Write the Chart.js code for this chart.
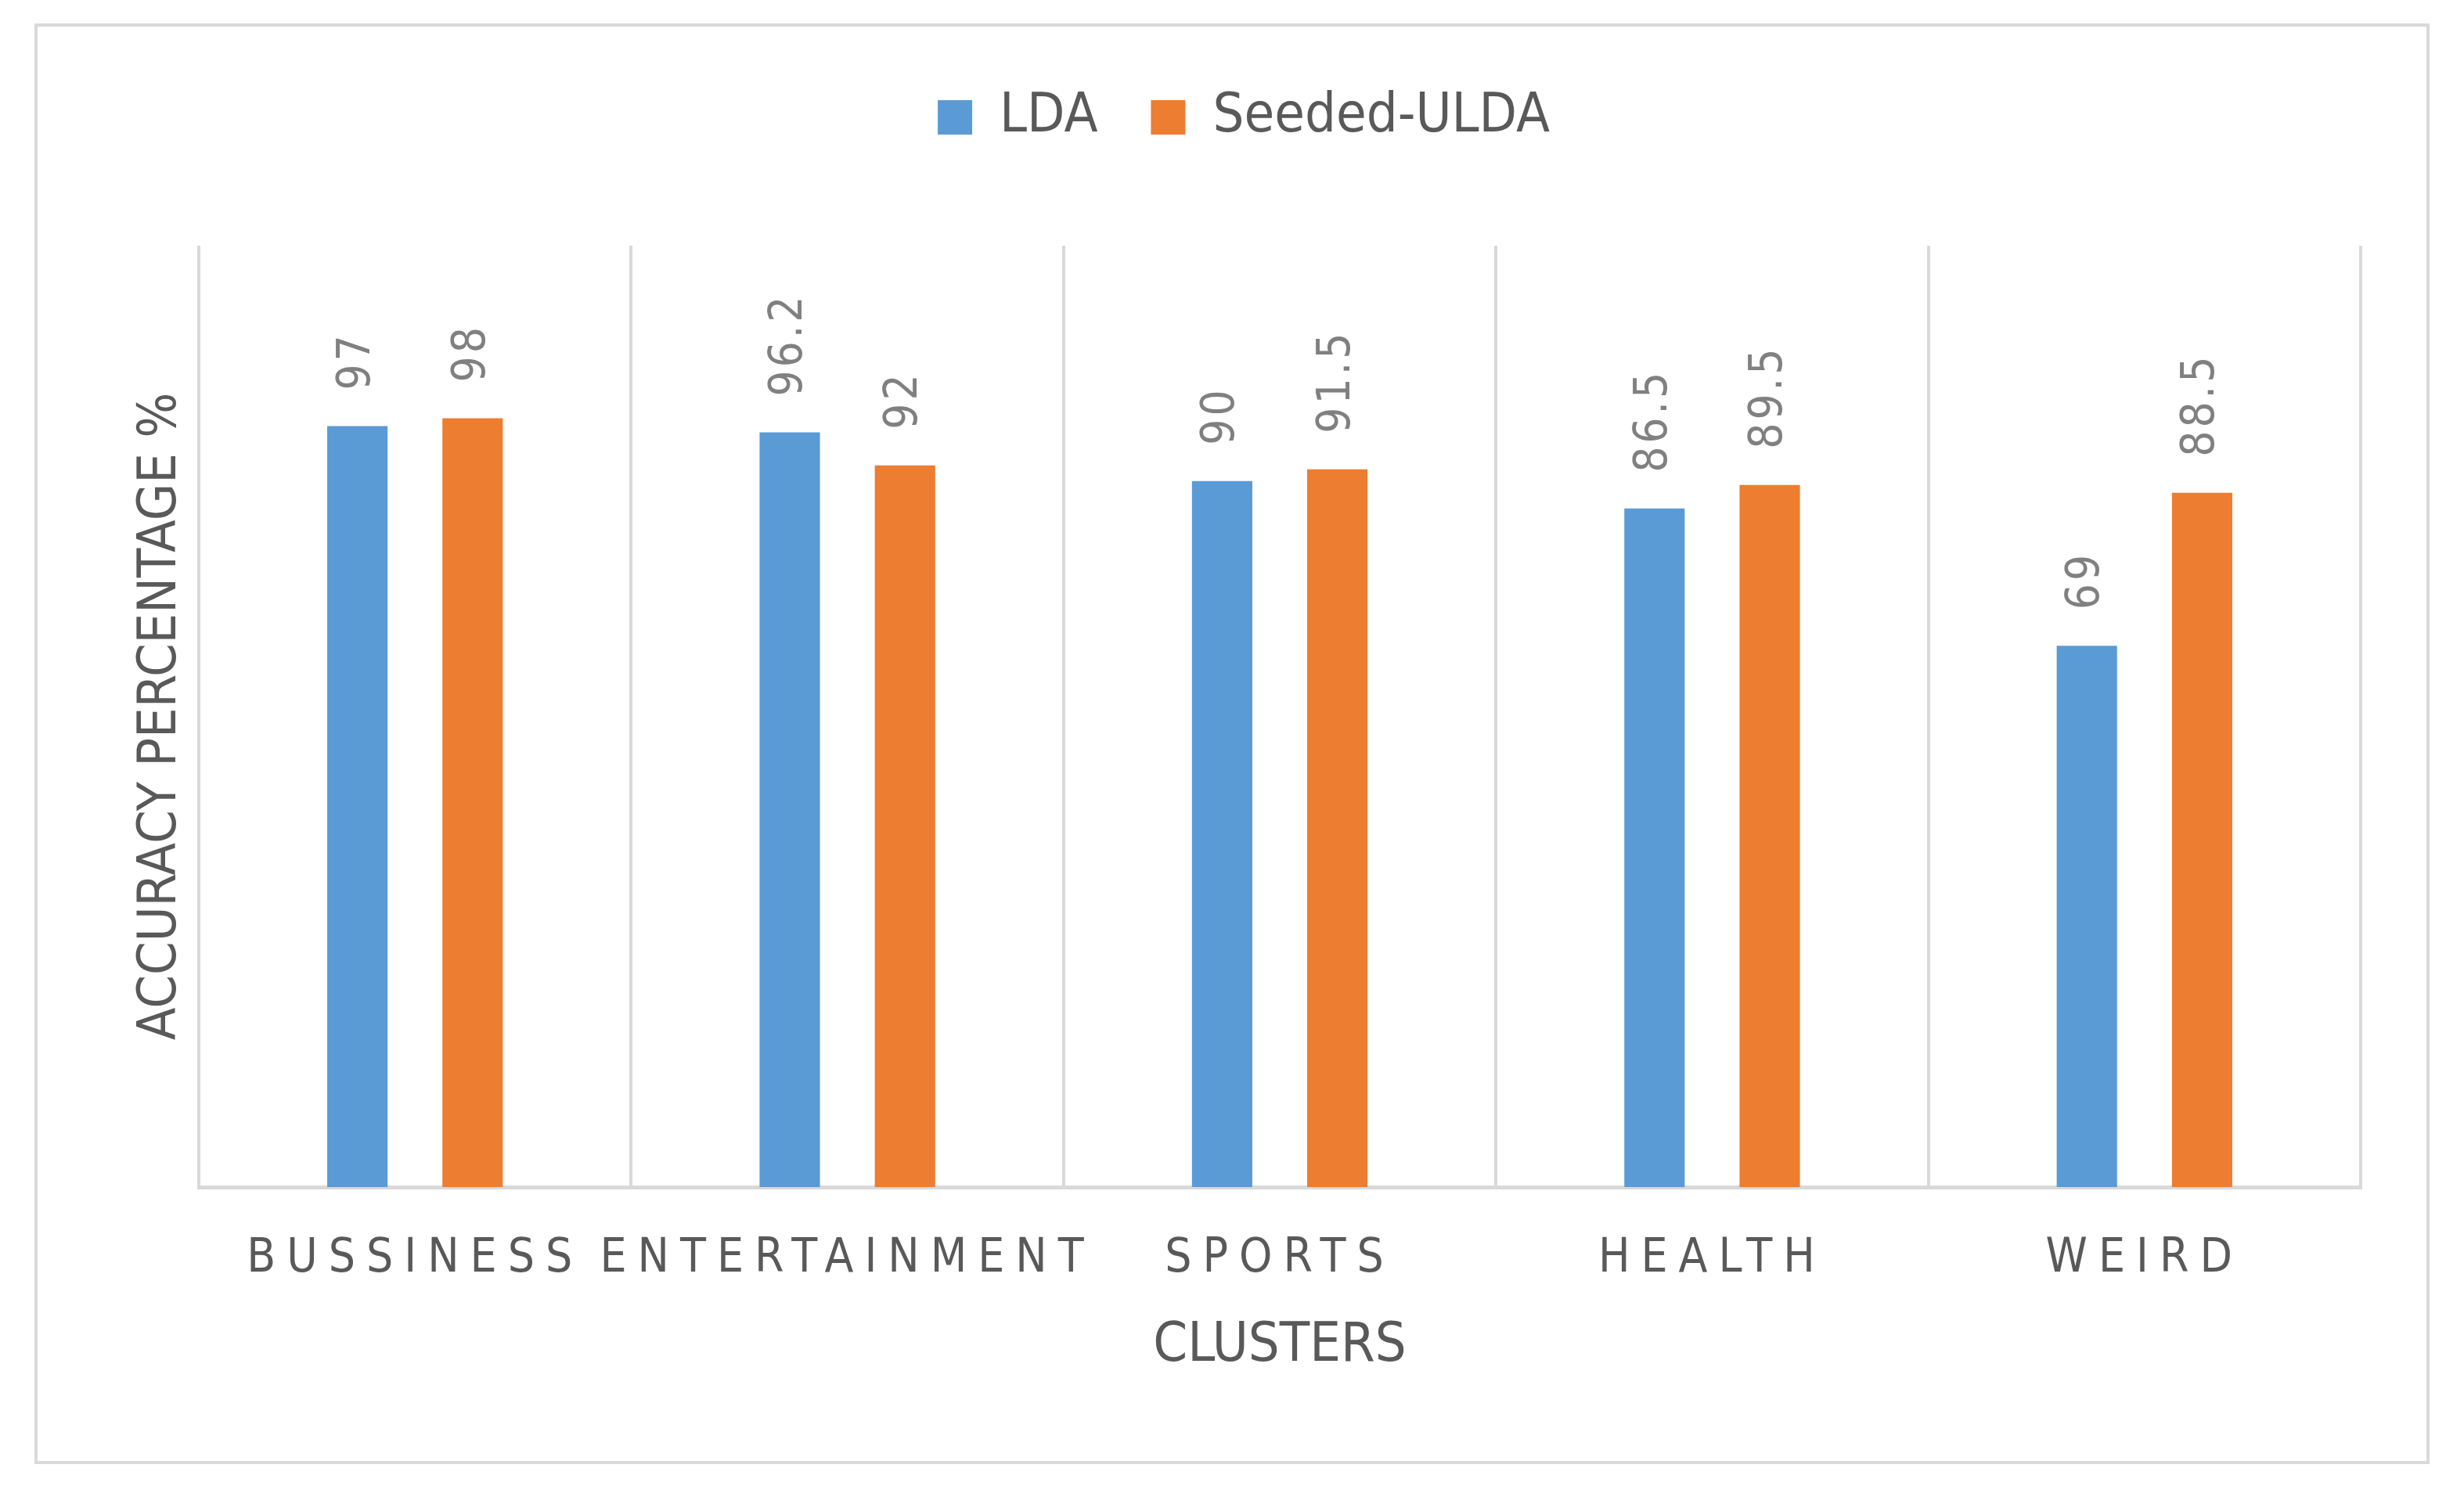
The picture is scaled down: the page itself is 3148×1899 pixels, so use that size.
<!DOCTYPE html>
<html>
<head>
<meta charset="utf-8">
<script src="https://cdn.jsdelivr.net/npm/chart.js@4.4.1/dist/chart.umd.min.js"></script>
<style>
    html, body { margin: 0; padding: 0; background: #ffffff; }
    body { width: 3148px; height: 1899px; position: relative; overflow: hidden; }
    #frame {
        position: absolute; left: 44px; top: 30px;
        width: 3060px; height: 1841px;
        border: 4px solid #d9d9d9; box-sizing: border-box;
    }
    #holder { position: relative; width: 100%; height: 100%; }
</style>
</head>
<body>
<div id="frame"><div id="holder"><canvas id="myChart"></canvas></div></div>
<script>
const categories = ['BUSSINESS', 'ENTERTAINMENT', 'SPORTS', 'HEALTH', 'WEIRD'];
const seriesNames = ['LDA', 'Seeded-ULDA'];
const ldaValues = [97, 96.2, 90, 86.5, 69];
const seededValues = [98, 92, 91.5, 89.5, 88.5];
const yTitle = 'ACCURACY PERCENTAGE %';
const xTitle = 'CLUSTERS';

const fontStack = '"Liberation Sans Narrow", "DejaVu Sans Condensed", "Liberation Sans", sans-serif';
const textColor = '#595959';

// value labels above bars, rotated, plus letter spacing for the x ticks
const valueLabels = {
    id: 'valueLabels',
    beforeLayout(chart) {
        chart.ctx.letterSpacing = '0px';
    },
    beforeDraw(chart) {
        chart.ctx.letterSpacing = '0px';
    },
    afterDatasetsDraw(chart) {
        let ctx = chart.ctx;
        ctx.save();
        ctx.letterSpacing = '4px';
        ctx.font = '58px ' + fontStack;
        ctx.fillStyle = '#808080';
        ctx.textAlign = 'left';
        ctx.textBaseline = 'middle';
        chart.data.datasets.forEach((ds, i) => {
            let meta = chart.getDatasetMeta(i);
            meta.data.forEach((bar, j) => {
                ctx.save();
                ctx.translate(bar.x, bar.y - 46);
                ctx.rotate(-Math.PI / 2);
                ctx.fillText(String(ds.data[j]), 0, 0);
                ctx.restore();
            });
        });
        ctx.restore();
        // x tick labels are drawn after datasets (ticks z = 1)
        ctx.letterSpacing = '14px';
    },
    afterDraw(chart) {
        chart.ctx.letterSpacing = '0px';
    }
};

const data = {
    labels: categories,
    datasets: [{
            label: seriesNames[0],
            data: ldaValues,
            backgroundColor: '#5b9bd5',
            categoryPercentage: 0.533,
            barPercentage: 0.524
        }, {
            label: seriesNames[1],
            data: seededValues,
            backgroundColor: '#ed7d31',
            categoryPercentage: 0.533,
            barPercentage: 0.524
        }]
};

const config = {
    type: 'bar',
    data: data,
    plugins: [valueLabels],
    options: {
        responsive: true,
        maintainAspectRatio: false,
        animation: false,
        layout: { padding: { top: 13, left: 114, right: 84, bottom: 0 } },
        plugins: {
            legend: {
                position: 'top',
                labels: {
                    boxWidth: 44,
                    boxHeight: 44,
                    padding: 68,
                    color: textColor,
                    font: { family: fontStack, size: 70 }
                }
            },
            title: {
                display: true,
                text: '',
                weight: 500,
                position: 'top',
                font: { size: 10 },
                padding: { top: 107, bottom: 0 }
            },
            tooltip: { enabled: false }
        },
        scales: {
            x: {
                grid: {
                    display: true,
                    offset: true,
                    color: '#d9d9d9',
                    lineWidth: 4,
                    drawTicks: false
                },
                border: { display: true, color: '#d9d9d9', width: 5 },
                ticks: {
                    z: 1,
                    padding: 56,
                    color: textColor,
                    font: { family: fontStack, size: 60 },
                    maxRotation: 0,
                    autoSkip: false
                },
                title: {
                    display: true,
                    text: xTitle,
                    color: textColor,
                    font: { family: fontStack, size: 70 },
                    padding: { top: 0, bottom: 104 }
                },
                afterFit(scale) {
                    scale.height = 350;
                }
            },
            y: {
                min: 0,
                max: 120,
                grid: { display: false },
                border: { display: false },
                ticks: { display: false },
                title: {
                    display: true,
                    text: yTitle,
                    color: textColor,
                    font: { family: fontStack, size: 68 },
                    padding: { top: 4, bottom: 0 }
                },
                afterFit(scale) {
                    scale.width = 92;
                }
            }
        }
    }
};

let idChart = document.getElementById('myChart').getContext('2d');
new Chart(idChart, config);
</script>
</body>
</html>
